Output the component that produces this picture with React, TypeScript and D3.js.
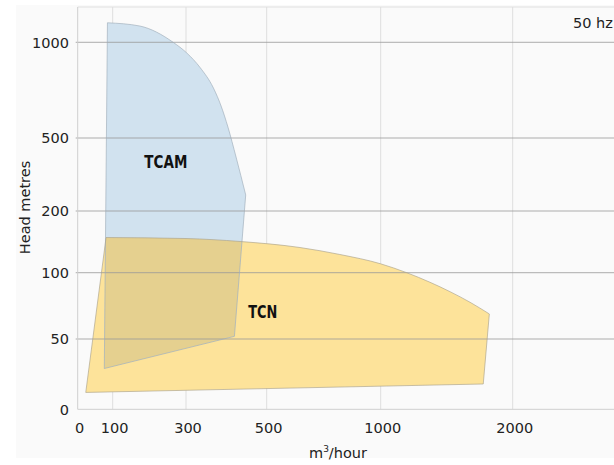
import React from 'react';
import * as d3 from 'd3';

// tick values on both axes
const xTicks = [0, 100, 300, 500, 1000, 2000];
const yTicks = [0, 50, 100, 200, 500, 1000];

// TCAM envelope (flow m3/h, head m): curved top/right edge, then the straight corners
const tcamCurve: [number, number][] = [
  [85, 1102], [174, 1085], [265, 1000], [302, 944], [335, 868], [368, 761],
  [387, 667], [404, 557], [424, 422], [448, 266],
];
const tcamCorners: [number, number][] = [[420, 52], [76, 29]];

// TCN envelope
const tcnCurve: [number, number][] = [
  [81, 157], [300, 155.4], [434, 150.6], [646, 140.8], [821, 129.5], [1000, 114.4],
  [1197, 100], [1373, 92.8], [1525, 85.7], [1677, 77.7], [1823, 68.9],
];
const tcnCorners: [number, number][] = [[1777, 18], [23, 12]];

const labels = [
  { name: 'TCAM', at: [245, 377] as [number, number], len: 43 },
  { name: 'TCN', at: [490, 66] as [number, number], len: 29 },
];

const W = 614;
const H = 465;
const FONT = "'DejaVu Sans', sans-serif";

// the axes are not linear, each tick sits on its own position
const x = d3.scaleLinear().domain(xTicks).range([77.7, 112.7, 186, 266.7, 380.7, 512.7]);
const y = d3.scaleLinear().domain(yTicks).range([409.3, 339, 272.7, 211, 138, 42.3]);

const curve = d3.line<[number, number]>()
  .x((d) => x(d[0]))
  .y((d) => y(d[1]))
  .curve(d3.curveMonotoneX);

const shape = (top: [number, number][], corners: [number, number][]) =>
  curve(top) + corners.map((p) => `L${x(p[0])},${y(p[1])}`).join('') + 'Z';

const App: React.FC = () => {
  const tcam = shape(tcamCurve, tcamCorners);
  const tcn = shape(tcnCurve, tcnCorners);
  const left = x(0);
  const bottom = y(0);
  const top = 7;

  return (
    <svg width={W} height={H} style={{ position: 'absolute', left: 0, top: 0 }}>
      <defs>
        <clipPath id="tcnClip">
          <path d={tcn} />
        </clipPath>
      </defs>
      <rect x={0} y={0} width={W} height={H} fill="#fff" />
      <rect x={16} y={5} width={W - 16} height={453} fill="#fafafa" />

      {/* vertical grid */}
      {xTicks.slice(1).map((t) => (
        <line key={t} x1={x(t)} x2={x(t)} y1={top} y2={bottom} stroke="#dedede" strokeWidth={1} />
      ))}
      <line x1={left} x2={W} y1={top} y2={top} stroke="#e0e0e0" />

      {/* areas */}
      <path d={tcn} fill="#fde39a" />
      <path d={tcam} fill="#d1e2ef" />
      <path d={tcam} fill="#e5d08f" clipPath="url(#tcnClip)" />

      {/* horizontal grid drawn over the areas */}
      {yTicks.slice(1).map((t) => (
        <line key={t} x1={left - 2} x2={W} y1={y(t)} y2={y(t)} stroke="#9a9a9a" strokeOpacity={0.8} strokeWidth={1} />
      ))}

      <path d={tcam} fill="none" stroke="#9eabb8" strokeWidth={0.8} strokeOpacity={0.8} />
      <path d={tcn} fill="none" stroke="#a8a08a" strokeWidth={0.8} strokeOpacity={0.8} />

      {/* axis lines */}
      <line x1={left} x2={left} y1={top} y2={bottom} stroke="#cfcfcf" />
      <line x1={left} x2={W} y1={bottom} y2={bottom} stroke="#cfcfcf" />

      {yTicks.map((t) => (
        <text key={t} x={69} y={y(t)} dy="0.36em" textAnchor="end" fontFamily={FONT} fontSize={14.5} fill="#222">
          {t}
        </text>
      ))}
      {xTicks.map((t) => (
        <text key={t} x={x(t) + 2} y={432.5} textAnchor="middle" fontFamily={FONT} fontSize={14.5} fill="#222">
          {t}
        </text>
      ))}

      {labels.map((l) => (
        <text key={l.name} x={x(l.at[0]) - l.len / 2} y={y(l.at[1])} textLength={l.len} lengthAdjust="spacingAndGlyphs"
          fontFamily={FONT} fontWeight="bold" fontSize={17.5} fill="#111">
          {l.name}
        </text>
      ))}

      <text x={573} y={28} fontFamily={FONT} fontSize={14.5} fill="#222">50 hz</text>

      <text transform="translate(29.5,207.5) rotate(-90)" textAnchor="middle" fontFamily={FONT} fontSize={14.5} fill="#222">
        Head metres
      </text>

      <text x={309} y={457.5} fontFamily={FONT} fontSize={14.5} fill="#222">
        m<tspan dy={-6} fontSize={9}>3</tspan><tspan dy={6}>/hour</tspan>
      </text>
    </svg>
  );
};

export default App;
